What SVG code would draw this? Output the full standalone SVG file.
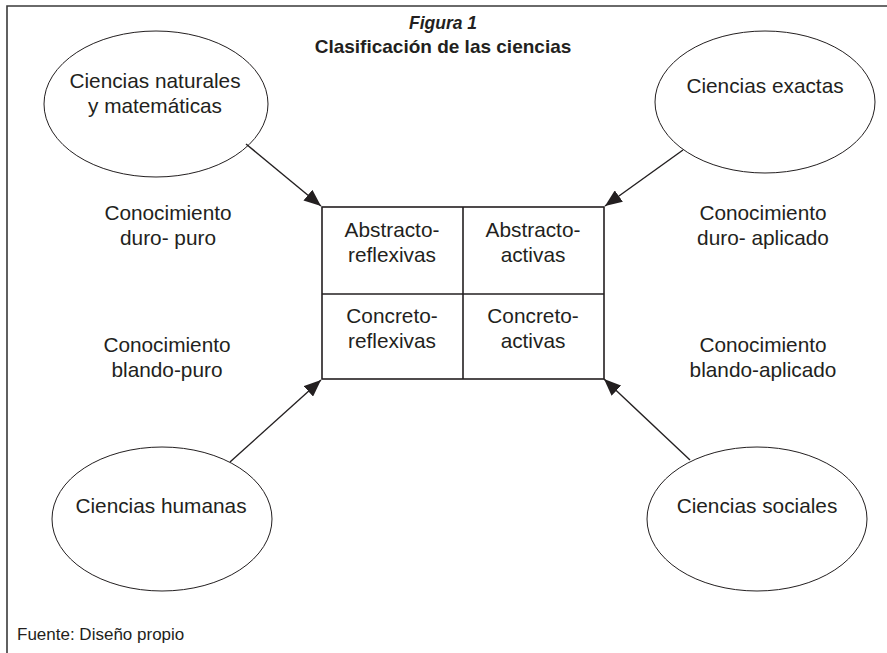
<svg xmlns="http://www.w3.org/2000/svg" width="887" height="653" viewBox="0 0 887 653">
<style>
text{font-family:"Liberation Sans",Arial,sans-serif;fill:#231f20;text-anchor:middle}
.t{font-size:20.8px}
.e{fill:#fff;stroke:#231f20;stroke-width:1}
.c{fill:none;stroke:#231f20;stroke-width:1.6}
.a{stroke:#231f20;stroke-width:1.4;fill:none}
</style>
<defs>
<marker id="ah" viewBox="0 0 10 10" refX="10" refY="5" markerWidth="17" markerHeight="14" markerUnits="userSpaceOnUse" orient="auto" preserveAspectRatio="none"><path d="M0,0 L10,5 L0,10 z" fill="#231f20"/></marker>
</defs>
<rect width="887" height="653" fill="#fff"/>
<path d="M7,653 V6 H887" fill="none" stroke="#3a3a3a" stroke-width="1.6"/>
<g id="title">
<text x="443" y="29" style="font-size:17.5px;font-weight:bold;font-style:italic">Figura 1</text>
<text x="443" y="53" style="font-size:19px;font-weight:bold">Clasificación de las ciencias</text>
</g>
<g id="n-naturales"><ellipse class="e" cx="156" cy="104" rx="112" ry="73"/><text class="t" x="155" y="88">Ciencias naturales</text><text class="t" x="155" y="113">y matemáticas</text></g>
<g id="n-exactas"><ellipse class="e" cx="765" cy="102" rx="110" ry="71"/><text class="t" x="765" y="93">Ciencias exactas</text></g>
<g id="n-humanas"><ellipse class="e" cx="162" cy="519" rx="110" ry="72"/><text class="t" x="161" y="513">Ciencias humanas</text></g>
<g id="n-sociales"><ellipse class="e" cx="757" cy="519" rx="110" ry="72"/><text class="t" x="757" y="513">Ciencias sociales</text></g>
<g id="grid">
<rect class="c" x="322" y="207" width="282" height="172"/>
<line class="c" x1="322" y1="294" x2="604" y2="294"/>
<line class="c" x1="463" y1="207" x2="463" y2="379"/>
</g>
<g id="c-ar"><text class="t" x="392" y="237">Abstracto-</text><text class="t" x="392" y="262">reflexivas</text></g>
<g id="c-aa"><text class="t" x="533" y="237">Abstracto-</text><text class="t" x="533" y="262">activas</text></g>
<g id="c-cr"><text class="t" x="392" y="323">Concreto-</text><text class="t" x="392" y="348">reflexivas</text></g>
<g id="c-ca"><text class="t" x="533" y="323">Concreto-</text><text class="t" x="533" y="348">activas</text></g>
<g id="l-dp"><text class="t" x="168" y="220">Conocimiento</text><text class="t" x="168" y="245">duro- puro</text></g>
<g id="l-da"><text class="t" x="763" y="220">Conocimiento</text><text class="t" x="763" y="245">duro- aplicado</text></g>
<g id="l-bp"><text class="t" x="167" y="352">Conocimiento</text><text class="t" x="167" y="377">blando-puro</text></g>
<g id="l-ba"><text class="t" x="763" y="352">Conocimiento</text><text class="t" x="763" y="377">blando-aplicado</text></g>
<g id="connectors">
<line class="a" x1="246" y1="144" x2="321" y2="206" marker-end="url(#ah)"/>
<line class="a" x1="683" y1="150" x2="605" y2="206" marker-end="url(#ah)"/>
<line class="a" x1="230" y1="462" x2="321" y2="380" marker-end="url(#ah)"/>
<line class="a" x1="690" y1="460" x2="604" y2="379" marker-end="url(#ah)"/>
</g>
<text x="17" y="640" style="font-size:17px;text-anchor:start">Fuente: Diseño propio</text>
</svg>
